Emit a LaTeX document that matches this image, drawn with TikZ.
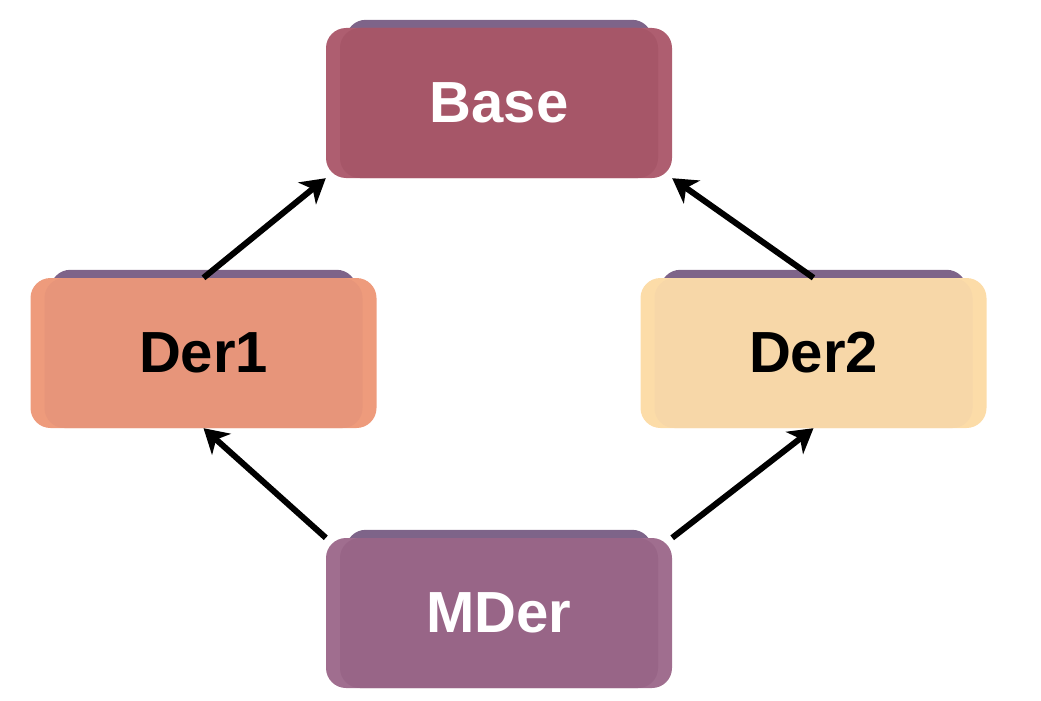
\documentclass[tikz,border=0pt]{standalone}
\usepackage{fontspec}
\setmainfont{Liberation Sans}
\usetikzlibrary{arrows.meta,backgrounds}
\definecolor{backP}{HTML}{7E6489}
\definecolor{baseO}{HTML}{AE5E70}
\definecolor{baseI}{HTML}{A65668}
\definecolor{derAO}{HTML}{EE9B7C}
\definecolor{derAI}{HTML}{E7957A}
\definecolor{derBO}{HTML}{FCDCA8}
\definecolor{derBI}{HTML}{F7D7A8}
\definecolor{mderO}{HTML}{A06E8F}
\definecolor{mderI}{HTML}{986587}
\tikzset{
  box/.style n args={3}{rounded corners=20pt, fill=#1, minimum width=346pt, minimum height=150pt,
    inner sep=0pt, text=#3, font=\fontsize{58}{62}\selectfont\bfseries,
    path picture={\fill[#2, rounded corners=20pt] ([xshift=14pt]path picture bounding box.north west) rectangle ([xshift=-14pt]path picture bounding box.south east);}},
  conn/.style={line width=6pt, -{Stealth[length=24pt,width=28pt,inset=7pt]}}
}
\begin{document}
\begin{tikzpicture}[x=1pt,y=-1pt]
\useasboundingbox (0,0) rectangle (1041,701);
\node[box={baseO}{baseI}{white}] (base) at (499,103) {Base};
\node[box={derAO}{derAI}{black}] (der1) at (203.5,353) {Der1};
\node[box={derBO}{derBI}{black}] (der2) at (813.5,353) {Der2};
\node[box={mderO}{mderI}{white}] (mder) at (499,613) {MDer};
\begin{scope}[on background layer]
\foreach \n in {base,der1,der2,mder}{
  \fill[backP, rounded corners=20pt] ([xshift=20pt,yshift=8pt]\n.north west) rectangle ([xshift=-20pt,yshift=2pt]\n.south east);
}
\end{scope}
\draw[conn] (der1.north) -- (base.south west);
\draw[conn] (der2.north) -- (base.south east);
\draw[conn] (mder.north west) -- (der1.south);
\draw[conn] (mder.north east) -- (der2.south);
\end{tikzpicture}
\end{document}
